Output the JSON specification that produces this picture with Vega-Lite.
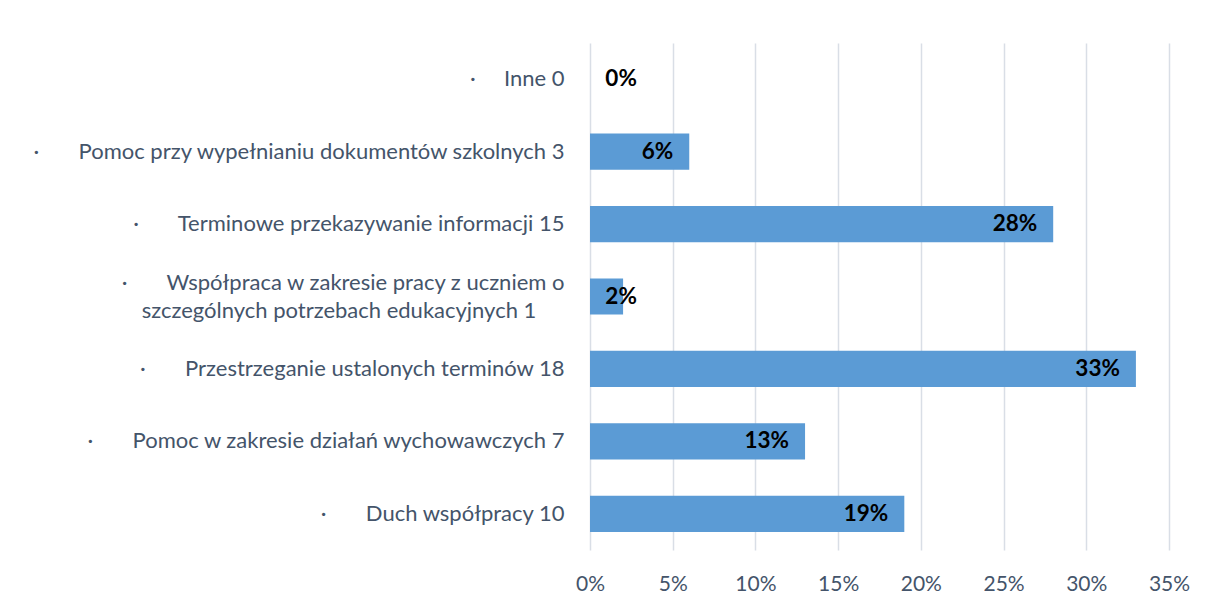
{
  "$schema": "https://vega.github.io/schema/vega-lite/v6.json",
  "width": 579,
  "height": 507,
  "autosize": "none",
  "padding": {"left": 590, "top": 43, "right": 39, "bottom": 56},
  "background": "white",
  "config": {"view": {"stroke": null}, "font": "Lato"},
  "data": {
    "values": [
      {"label": "·\u00a0\u00a0\u00a0\u00a0\u00a0Inne 0", "value": 0.0},
      {"label": "·\u00a0\u00a0\u00a0\u00a0\u00a0\u00a0\u00a0Pomoc przy wypełnianiu dokumentów szkolnych 3", "value": 0.06},
      {"label": "·\u00a0\u00a0\u00a0\u00a0\u00a0\u00a0\u00a0Terminowe przekazywanie informacji 15", "value": 0.28},
      {"label": "·\u00a0\u00a0\u00a0\u00a0\u00a0\u00a0\u00a0Współpraca w zakresie pracy z uczniem o|szczególnych potrzebach edukacyjnych 1\u00a0\u00a0\u00a0\u00a0\u00a0\u200b", "value": 0.02},
      {"label": "·\u00a0\u00a0\u00a0\u00a0\u00a0\u00a0\u00a0Przestrzeganie ustalonych terminów 18", "value": 0.33},
      {"label": "·\u00a0\u00a0\u00a0\u00a0\u00a0\u00a0\u00a0Pomoc w zakresie działań wychowawczych 7", "value": 0.13},
      {"label": "·\u00a0\u00a0\u00a0\u00a0\u00a0\u00a0\u00a0Duch współpracy 10", "value": 0.19}
    ]
  },
  "encoding": {
    "y": {
      "field": "label",
      "type": "nominal",
      "sort": null,
      "title": null,
      "scale": {"paddingInner": 0.5, "paddingOuter": 0.25},
      "axis": {
        "domain": false,
        "ticks": false,
        "labelExpr": "split(datum.value, '|')",
        "labelFontSize": 22,
        "labelColor": "#44546A",
        "labelPadding": 26,
        "labelLineHeight": 28,
        "labelLimit": 600,
        "labelFont": "Lato",
        "labelOffset": {"condition": {"test": "indexof(datum.value, '|') >= 0", "value": -14}, "value": 0}
      }
    }
  },
  "layer": [
    {
      "mark": {"type": "bar", "color": "#5B9BD5"},
      "encoding": {
        "x": {
          "field": "value",
          "type": "quantitative",
          "title": null,
          "scale": {"domain": [0, 0.35], "nice": false},
          "axis": {
            "format": ".0%",
            "values": [0, 0.05, 0.1, 0.15, 0.2, 0.25, 0.3, 0.35],
            "domain": false,
            "ticks": false,
            "grid": true,
            "gridColor": "#D9DEE6",
            "gridWidth": 1.5,
            "labelFlush": false,
            "labelFontSize": 21,
            "labelColor": "#44546A",
            "labelPadding": 23,
            "labelFont": "Lato"
          }
        }
      }
    },
    {
      "transform": [{"calculate": "max(datum.value, 0.038)", "as": "labelPos"}],
      "mark": {"type": "text", "align": "right", "baseline": "middle", "dx": -16, "fontSize": 22.5, "fontWeight": "bold", "color": "#000000", "font": "Lato"},
      "encoding": {
        "x": {"field": "labelPos", "type": "quantitative"},
        "text": {"field": "value", "type": "quantitative", "format": ".0%"}
      }
    }
  ]
}
